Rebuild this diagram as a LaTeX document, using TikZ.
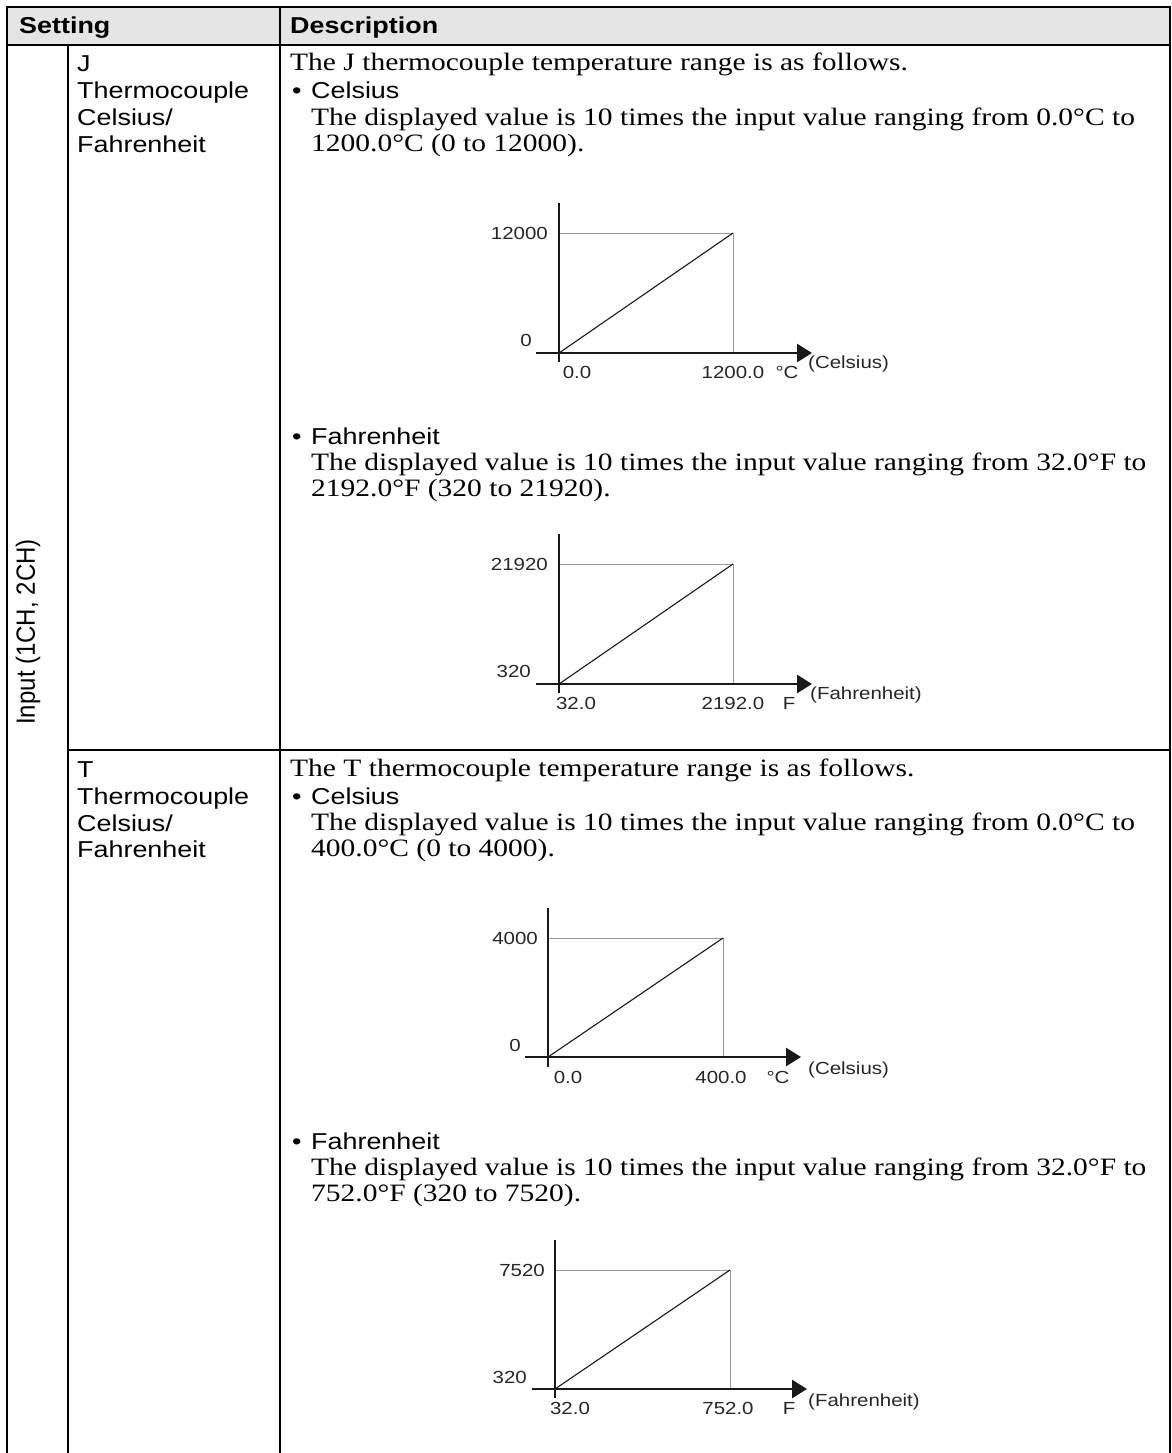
\documentclass[tikz,border=0pt]{standalone}
\usepackage{fontspec}
\setmainfont{Liberation Serif}
\setsansfont{Liberation Sans}
\newfontfamily\descfont[FakeStretch=1.18]{Liberation Serif}
\newfontfamily\widesans[FakeStretch=1.17]{Liberation Sans}
\usetikzlibrary{arrows.meta}
\begin{document}
\begin{tikzpicture}[x=1pt,y=-1pt,
  rule/.style={line width=2.8pt,line cap=rect},
  desc/.style={anchor=base west,inner sep=0pt,font=\descfont\fontsize{25}{28}\selectfont},
  sans/.style={anchor=base west,inner sep=0pt,font=\widesans\fontsize{23}{26}\selectfont},
  hdr/.style={anchor=base west,inner sep=0pt,font=\widesans\bfseries\fontsize{23}{26}\selectfont},
  lab/.style={inner sep=0pt,font=\widesans\fontsize{17.5}{20}\selectfont,text=black!85},
  axisline/.style={line width=2.7pt,draw=black!90},
  guide/.style={line width=1pt,draw=black!40},
  diag/.style={line width=1.1pt,draw=black!90},
  tip/.style={-{Triangle[length=15pt,width=18pt]}},
]
\useasboundingbox (0,0) rectangle (1172,1453);
% header
\fill[black!10] (7,7) rectangle (1170,45);
\draw[rule] (7,1453) -- (7,7) -- (1170,7) -- (1170,1453);
\draw[rule] (7,45) -- (1170,45);
\draw[rule] (280,7) -- (280,1453);
\draw[rule] (68,45) -- (68,1453);
\draw[rule] (68,750) -- (1170,750);
\node[hdr] (hset) at (19,34) {Setting};
\node[hdr] (hdesc) at (290,34) {Description};
% vertical label
\node[rotate=90,inner sep=0pt,font=\sffamily\fontsize{24}{27}\selectfont] (inp) at (28,632) {\scalebox{1}[1.1]{Input (1CH, 2CH)}};
% J row, column 2
\node[sans] (j1) at (77,72) {J};
\node[sans] (j2) at (77,99) {Thermocouple};
\node[sans] (j3) at (77,126) {Celsius/};
\node[sans] (j4) at (77,152) {Fahrenheit};
% J row, description
\node[desc] (jd1) at (290,71) {The J thermocouple temperature range is as follows.};
\node[sans] (jb1) at (292,99) {\textbullet};
\node[sans] (jd2) at (311,99) {Celsius};
\node[desc] (jd3) at (311,125) {The displayed value is 10 times the input value ranging from 0.0°C to};
\node[desc] (jd4) at (311,151) {1200.0°C (0 to 12000).};
% chart 1
\draw[guide] (559,233) -- (733,233) -- (733,353);
\draw[diag] (559,353) -- (733,233);
\draw[axisline] (559,203) -- (559,362);
\draw[axisline,tip] (536,353) -- (812,353);
\node[lab,anchor=east] (c1a) at (548,233) {12000};
\node[lab,anchor=east] (c1b) at (532,340) {0};
\node[lab] (c1c) at (577,372) {0.0};
\node[lab] (c1d) at (733,372) {1200.0};
\node[lab] (c1e) at (787,372) {°C};
\node[lab,anchor=west] (c1f) at (808,364) {(Celsius)};
% Fahrenheit J
\node[sans] (jb2) at (292,444) {\textbullet};
\node[sans] (jd5) at (311,444) {Fahrenheit};
\node[desc] (jd6) at (311,470) {The displayed value is 10 times the input value ranging from 32.0°F to};
\node[desc] (jd7) at (311,496) {2192.0°F (320 to 21920).};
% chart 2
\draw[guide] (559,564) -- (733,564) -- (733,684);
\draw[diag] (559,684) -- (733,564);
\draw[axisline] (559,534) -- (559,693);
\draw[axisline,tip] (536,684) -- (812,684);
\node[lab,anchor=east] (c2a) at (548,564) {21920};
\node[lab,anchor=east] (c2b) at (531,671) {320};
\node[lab] (c2c) at (576,703) {32.0};
\node[lab] (c2d) at (733,703) {2192.0};
\node[lab] (c2e) at (789,703) {F};
\node[lab,anchor=west] (c2f) at (810,695) {(Fahrenheit)};
% T row, column 2
\node[sans] (t1) at (77,777) {T};
\node[sans] (t2) at (77,804) {Thermocouple};
\node[sans] (t3) at (77,831) {Celsius/};
\node[sans] (t4) at (77,857) {Fahrenheit};
% T row, description
\node[desc] (td1) at (290,776) {The T thermocouple temperature range is as follows.};
\node[sans] (tb1) at (292,804) {\textbullet};
\node[sans] (td2) at (311,804) {Celsius};
\node[desc] (td3) at (311,830) {The displayed value is 10 times the input value ranging from 0.0°C to};
\node[desc] (td4) at (311,856) {400.0°C (0 to 4000).};
% chart 3
\draw[guide] (548,938) -- (723,938) -- (723,1057);
\draw[diag] (548,1057) -- (723,938);
\draw[axisline] (548,908) -- (548,1067);
\draw[axisline,tip] (525,1057) -- (801,1057);
\node[lab,anchor=east] (c3a) at (538,938) {4000};
\node[lab,anchor=east] (c3b) at (521,1045) {0};
\node[lab] (c3c) at (568,1077) {0.0};
\node[lab] (c3d) at (721,1077) {400.0};
\node[lab] (c3e) at (778,1077) {°C};
\node[lab,anchor=west] (c3f) at (808,1070) {(Celsius)};
% Fahrenheit T
\node[sans] (tb2) at (292,1149) {\textbullet};
\node[sans] (td5) at (311,1149) {Fahrenheit};
\node[desc] (td6) at (311,1175) {The displayed value is 10 times the input value ranging from 32.0°F to};
\node[desc] (td7) at (311,1201) {752.0°F (320 to 7520).};
% chart 4
\draw[guide] (555,1270) -- (730,1270) -- (730,1389);
\draw[diag] (555,1389) -- (730,1270);
\draw[axisline] (555,1240) -- (555,1398);
\draw[axisline,tip] (532,1389) -- (807,1389);
\node[lab,anchor=east] (c4a) at (545,1270) {7520};
\node[lab,anchor=east] (c4b) at (527,1377) {320};
\node[lab] (c4c) at (570,1408) {32.0};
\node[lab] (c4d) at (728,1408) {752.0};
\node[lab] (c4e) at (789,1408) {F};
\node[lab,anchor=west] (c4f) at (808,1402) {(Fahrenheit)};
\end{tikzpicture}
\end{document}
